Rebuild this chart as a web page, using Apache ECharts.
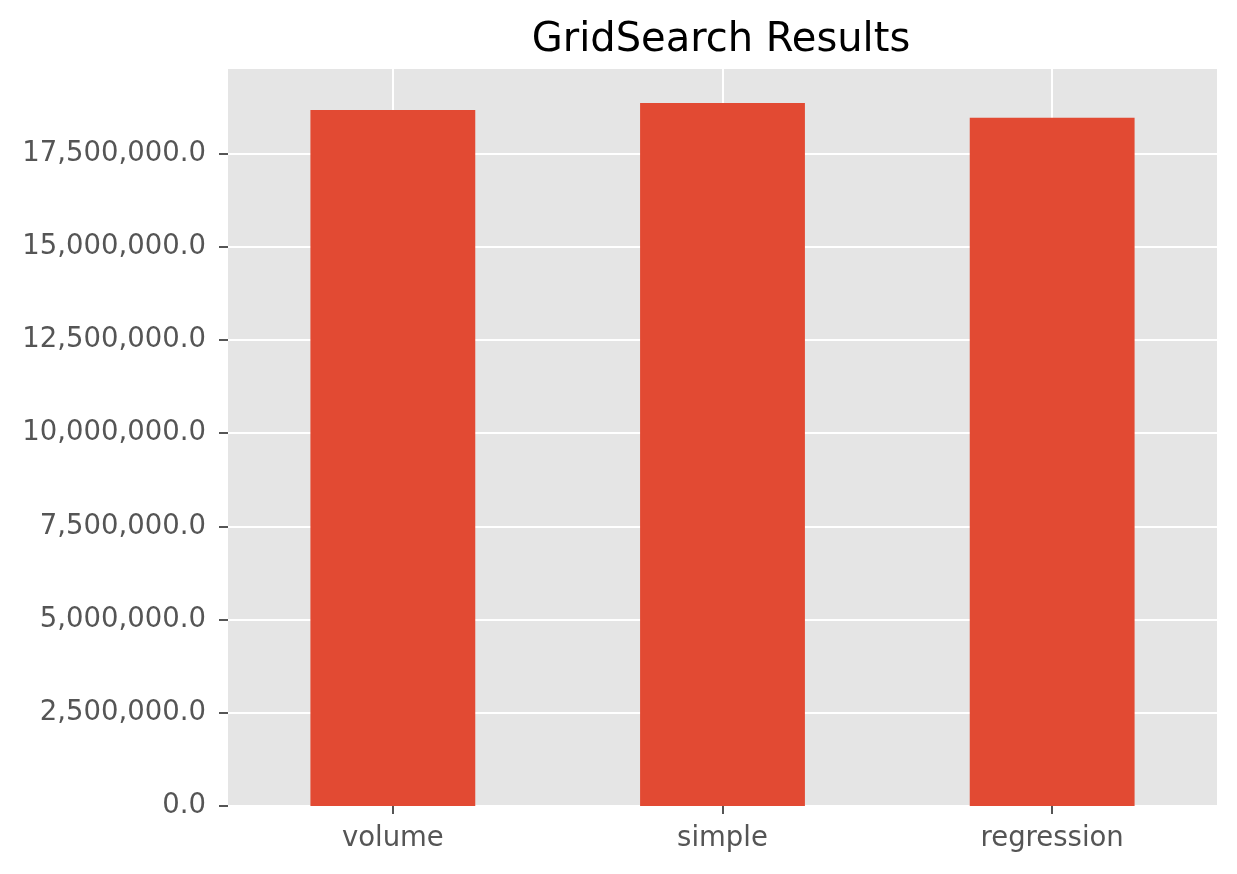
<!DOCTYPE html>
<html><head><meta charset="utf-8">
<script src="https://cdn.jsdelivr.net/npm/echarts@6/dist/echarts.min.js"></script>
<style>html,body{margin:0;padding:0;background:#fff}#c{width:1237px;height:874px}</style>
</head><body><div id="c"></div>
<script>
const categories = ['volume', 'simple', 'regression'];
const scores = [18670000, 18860000, 18460000];
const yTicks = [0, 2500000, 5000000, 7500000, 10000000, 12500000, 15000000, 17500000];
const titleText = 'GridSearch Results';

const chart = echarts.init(document.getElementById('c'), null, {renderer: 'canvas'});
const fmt = v => Number(v).toLocaleString('en-US', {minimumFractionDigits: 1, maximumFractionDigits: 1});
chart.setOption({
  animation: false,
  backgroundColor: '#ffffff',
  title: {
    text: titleText, left: 716, top: 16, textAlign: 'center',
    textStyle: {fontFamily: 'DejaVu Sans', fontSize: 40, fontWeight: 'normal', color: '#000'}
  },
  grid: {left: 228, right: 20, top: 69, bottom: 68, show: true, backgroundColor: '#E5E5E5', borderWidth: 0},
  xAxis: {
    type: 'category', data: categories,
    axisLine: {show: false},
    axisTick: {show: true, alignWithLabel: true, length: 8, lineStyle: {color: '#555', width: 2}},
    axisLabel: {color: '#555', fontFamily: 'DejaVu Sans', fontSize: 27.5, margin: 19},
    splitLine: {show: true, alignWithLabel: true, lineStyle: {color: '#fff', width: 2}}
  },
  yAxis: {
    type: 'value', min: 0, max: 19770000, interval: 2500000,
    axisLine: {show: false},
    axisTick: {show: true, length: 9, customValues: yTicks, lineStyle: {color: '#555', width: 2}},
    axisLabel: {color: '#555', fontFamily: 'DejaVu Sans', fontSize: 27.5, margin: 22, customValues: yTicks, formatter: fmt},
    splitLine: {show: true, lineStyle: {color: '#fff', width: 2}}
  },
  series: [{
    type: 'bar', data: scores, barWidth: '50%',
    itemStyle: {color: '#E24A33'}
  }]
});
</script></body></html>
